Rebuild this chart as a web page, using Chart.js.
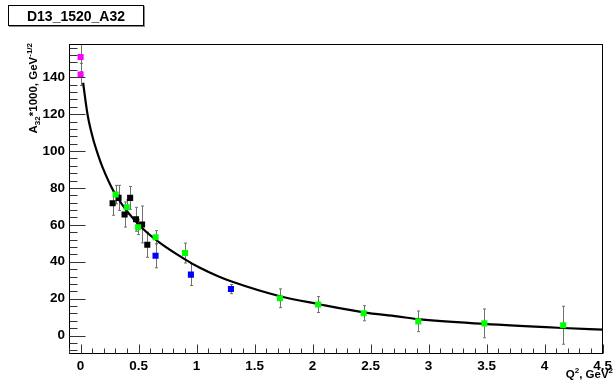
<!DOCTYPE html>
<html>
<head>
<meta charset="utf-8">
<script src="https://cdn.jsdelivr.net/npm/chart.js@4/dist/chart.umd.min.js"></script>
<style>
  html, body { margin: 0; padding: 0; background: #fff; }
  #c { display: block; }
</style>
</head>
<body>
<canvas id="c" width="616" height="388"></canvas>
<script>
// Axis tick values
const xTicks = [0, 0.5, 1, 1.5, 2, 2.5, 3, 3.5, 4, 4.5];
const yTicks = [0, 20, 40, 60, 80, 100, 120, 140];

// Photo-point (Q2 = 0) values
const magentaQ2 = [0, 0];
const magentaA = [151, 141.5];
const magentaErr = [8, 6];

// Low-Q2 cluster
const blackQ2 = [0.276, 0.327, 0.379, 0.427, 0.478, 0.53, 0.575];
const blackA = [71.7, 74.6, 65.6, 74.6, 63, 60.2, 49.2];
const blackErr = [6.5, 6.8, 6.8, 6.2, 6.5, 10, 6.8];

const greenQ2 = [0.302, 0.398, 0.496, 0.646, 0.9, 1.718, 2.048, 2.44, 2.911, 3.481, 4.16];
const greenA = [76.4, 69.5, 58.7, 53.3, 44.7, 20.2, 16.8, 12.1, 7.7, 6.6, 5.6];
const greenErr = [5, 4, 4, 3.6, 5.4, 5.1, 4.3, 4.1, 5.6, 7.8, 10.3];

const blueQ2 = [0.646, 0.951, 1.296];
const blueA = [43.2, 33, 25.2];
const blueErr = [6.5, 5.9, 2.5];

// Fit curve
const curveQ2 = [0.022, 0.045, 0.065, 0.108, 0.151, 0.193, 0.279, 0.393, 0.535, 0.678, 0.9, 1.02, 1.19, 1.296, 1.718, 2.048, 2.44, 2.73, 2.91, 3.48, 4.16, 4.5];
const curveA = [137, 126, 118, 106.5, 97.8, 90.6, 78.9, 68, 58, 50.5, 41.3, 37, 32, 29.4, 21.3, 17.1, 12.6, 10.4, 8.9, 6.3, 4.1, 3.2];

const pts = (xs, ys) => xs.map((x, i) => ({ x: x, y: ys[i] }));

function markerSet(label, xs, ys, errs, color) {
  return {
    label: label,
    data: pts(xs, ys),
    errors: errs,
    showLine: false,
    pointStyle: 'rect',
    pointRadius: 4.3,
    pointBorderWidth: 0,
    backgroundColor: color,
    borderColor: color,
    order: 1
  };
}

// Vertical error bars with small end caps, drawn under the markers
const errorBars = {
  id: 'errorBars',
  beforeDatasetsDraw(chart) {
    const ctx = chart.ctx, xs = chart.scales.x, ys = chart.scales.y, area = chart.chartArea;
    ctx.save();
    ctx.beginPath();
    ctx.rect(area.left, area.top, area.right - area.left, area.bottom - area.top);
    ctx.clip();
    ctx.strokeStyle = '#707070';
    ctx.lineWidth = 1;
    chart.data.datasets.forEach(ds => {
      if (!ds.errors) return;
      ds.data.forEach((p, i) => {
        const e = ds.errors[i];
        const px = Math.round(xs.getPixelForValue(p.x)) + 0.5;
        const y1 = ys.getPixelForValue(p.y + e);
        const y2 = ys.getPixelForValue(p.y - e);
        ctx.beginPath();
        ctx.moveTo(px, y1); ctx.lineTo(px, y2);
        ctx.moveTo(px - 1.5, y1); ctx.lineTo(px + 1.5, y1);
        ctx.moveTo(px - 1.5, y2); ctx.lineTo(px + 1.5, y2);
        ctx.stroke();
      });
    });
    ctx.restore();
  }
};

function drawRich(ctx, parts, x, y, align) {
  // parts: [text, fontSize, baselineShift]
  let total = 0;
  parts.forEach(p => { ctx.font = 'bold ' + p[1] + 'px "Liberation Sans", Arial, sans-serif'; total += ctx.measureText(p[0]).width; });
  let cx = align === 'right' ? x - total : x;
  ctx.textAlign = 'left';
  ctx.textBaseline = 'alphabetic';
  parts.forEach(p => {
    ctx.font = 'bold ' + p[1] + 'px "Liberation Sans", Arial, sans-serif';
    ctx.fillText(p[0], cx, y + p[2]);
    cx += ctx.measureText(p[0]).width;
  });
}

// Frame, inward tick marks, axis titles and the title box
const frameAndTitles = {
  id: 'frameAndTitles',
  afterDraw(chart) {
    const ctx = chart.ctx, xs = chart.scales.x, ys = chart.scales.y, a = chart.chartArea;
    ctx.save();
    ctx.strokeStyle = '#000';
    ctx.lineWidth = 1;
    ctx.strokeRect(Math.round(a.left) + 0.5, Math.round(a.top) + 0.5, Math.round(a.right - a.left) - 1, Math.round(a.bottom - a.top) - 1);

    ctx.strokeStyle = '#333';
    ctx.beginPath();
    const bottom = Math.round(a.bottom) - 0.5, left = Math.round(a.left) + 0.5;
    // x ticks: major every 0.5, minor every 0.1
    for (let k = -1; k <= 45; k++) {
      const v = k / 10;
      const px = Math.round(xs.getPixelForValue(v)) + 0.5;
      const len = (k % 5 === 0) ? 9 : 5;
      ctx.moveTo(px, bottom); ctx.lineTo(px, bottom - len);
    }
    // y ticks: major every 20, minor every 4
    for (let k = -2; k <= 39; k++) {
      const v = k * 4;
      const py = Math.round(ys.getPixelForValue(v)) + 0.5;
      const len = (k % 5 === 0) ? 16 : 8;
      ctx.moveTo(left, py); ctx.lineTo(left + len, py);
    }
    ctx.stroke();

    ctx.fillStyle = '#000';
    // x-axis title
    drawRich(ctx, [['Q', 11.5, 0], ['2', 8, -5], [', GeV', 11.5, 0], ['2', 8, -5]], 613, 378, 'right');
    // y-axis title, rotated
    ctx.save();
    ctx.translate(37, 43);
    ctx.rotate(-Math.PI / 2);
    drawRich(ctx, [['A', 11.5, 0], ['32', 8, 3], ['*1000, GeV', 11.5, 0], ['-1/2', 8, -5]], 0, 0, 'right');
    ctx.restore();

    // title box with shadow
    ctx.fillStyle = '#888';
    ctx.fillRect(9, 6, 136, 21);
    ctx.fillStyle = '#fff';
    ctx.fillRect(8, 5, 136, 21);
    ctx.strokeStyle = '#000';
    ctx.strokeRect(8.5, 5.5, 135, 20);
    ctx.fillStyle = '#000';
    ctx.font = 'bold 14px "Liberation Sans", Arial, sans-serif';
    ctx.textAlign = 'center';
    ctx.textBaseline = 'alphabetic';
    ctx.fillText('D13_1520_A32', 76, 21);
    ctx.restore();
  }
};

const tickFont = { family: '"Liberation Sans", Arial, sans-serif', size: 13.5, weight: 'bold' };

new Chart(document.getElementById('c'), {
  type: 'scatter',
  data: {
    datasets: [
      markerSet('magenta', magentaQ2, magentaA, magentaErr, '#ff00ff'),
      markerSet('green', greenQ2, greenA, greenErr, '#00ff00'),
      markerSet('black', blackQ2, blackA, blackErr, '#000000'),
      markerSet('blue', blueQ2, blueA, blueErr, '#0000ff'),
      {
        label: 'fit',
        data: pts(curveQ2, curveA),
        showLine: true,
        borderColor: '#000',
        borderWidth: 2.2,
        pointRadius: 0,
        cubicInterpolationMode: 'monotone',
        order: 5
      }
    ]
  },
  options: {
    responsive: false,
    devicePixelRatio: 1,
    animation: false,
    events: [],
    layout: { padding: { left: 0, right: 9, top: 44, bottom: 0 } },
    plugins: { legend: { display: false }, tooltip: { enabled: false }, title: { display: false } },
    scales: {
      x: {
        type: 'linear',
        min: -0.1,
        max: 4.5,
        afterFit(s) { s.height = 34; },
        afterBuildTicks(s) { s.ticks = xTicks.map(v => ({ value: v })); },
        grid: { display: false, drawTicks: false },
        border: { display: false },
        ticks: { font: tickFont, color: '#000', padding: 4, maxRotation: 0, autoSkip: false, callback: v => String(v) }
      },
      y: {
        type: 'linear',
        min: -10,
        max: 158,
        afterFit(s) { s.width = 69; },
        afterBuildTicks(s) { s.ticks = yTicks.map(v => ({ value: v })); },
        grid: { display: false, drawTicks: false },
        border: { display: false },
        ticks: { font: tickFont, color: '#000', padding: 4, autoSkip: false, callback: v => String(v) }
      }
    }
  },
  plugins: [errorBars, frameAndTitles]
});
</script>
</body>
</html>
